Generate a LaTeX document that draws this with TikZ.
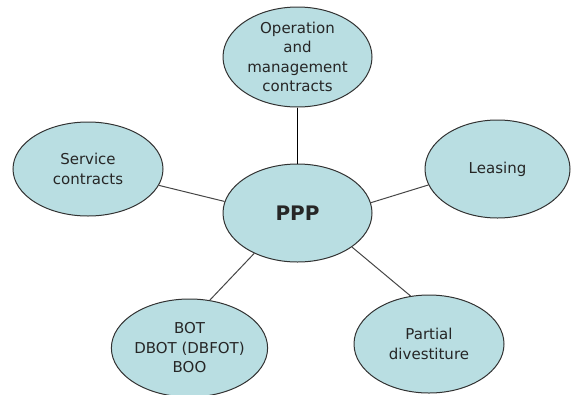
\documentclass[tikz,border=0pt]{standalone}
\usepackage{fontspec}
\setmainfont{DejaVu Sans}
\usetikzlibrary{shapes.geometric}
\definecolor{bubble}{RGB}{185,222,226}
\definecolor{rim}{RGB}{50,50,50}
\definecolor{link}{RGB}{70,70,70}
\tikzset{
  bub/.style={ellipse, draw=rim, line width=1pt, fill=bubble, inner sep=0pt,
    minimum width=149pt, minimum height=98pt, align=center,
    font=\fontsize{15pt}{19.5pt}\selectfont, text=black!85},
  conn/.style={draw=link, line width=1pt},
}
\begin{document}
\begin{tikzpicture}[x=1pt,y=-1pt]
\useasboundingbox (0,0) rectangle (572,394);
\node[bub, minimum height=100pt] (om) at (297.5,57) {Operation\\and\\management\\contracts};
\node[bub, font=\fontsize{20pt}{24pt}\selectfont\bfseries] (ppp) at (297.5,213) {PPP};
\node[bub, minimum width=150pt, minimum height=94pt] (svc) at (88,169) {Service\\contracts};
\node[bub, minimum width=145pt] (lea) at (497.5,169) {Leasing};
\node[bub, minimum width=147pt] (bot) at (189.5,348) {BOT\\DBOT (DBFOT)\\BOO};
\node[bub, minimum width=150pt] (par) at (429,344) {Partial\\divestiture};
\draw[conn, draw=black] (om.south) -- (ppp.north);
\draw[conn] (svc.-13) -- (ppp.171.5);
\draw[conn] (lea.193.7) -- (ppp.8.6);
\draw[conn] (ppp.223) -- (bot.67.3);
\draw[conn] (ppp.-32.5) -- (par.111);
\end{tikzpicture}
\end{document}
